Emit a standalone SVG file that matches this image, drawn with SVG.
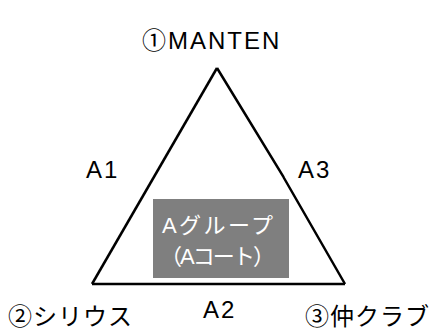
<svg xmlns="http://www.w3.org/2000/svg" width="433" height="333" viewBox="0 0 433 333">
<style>
text{font-family:"Liberation Sans","Noto Sans CJK JP",sans-serif;font-size:24px;fill:#000}
.lat{letter-spacing:2px}
.jp{letter-spacing:1px}
.w{fill:#fff;font-size:22px}
.edge{stroke:#000;stroke-width:2.5;fill:none;stroke-linejoin:miter}
</style>
<rect width="433" height="333" fill="#fff"/>
<g id="connectors">
<path class="edge" d="M217,68 L92,284"/>
<path class="edge" d="M92,284 L345,284"/>
<path class="edge" d="M217,68 L283,176 L284,178 L345,284"/>
</g>
<g id="n1"><text class="lat" x="142" y="49">①MANTEN</text></g>
<g id="n2"><text class="jp" x="8" y="325">②シリウス</text></g>
<g id="n3"><text class="jp" x="305" y="325">③仲クラブ</text></g>
<g id="a1"><text class="lat" x="86" y="178">A1</text></g>
<g id="a3"><text class="lat" x="298" y="178">A3</text></g>
<g id="a2"><text class="lat" x="203" y="318">A2</text></g>
<g id="group">
<rect x="153" y="199" width="136" height="79" fill="#7f7f7f"/>
<text class="w" x="162" y="233" textLength="111" lengthAdjust="spacing">Aグループ</text>
<text class="w" x="160" y="264" textLength="115" lengthAdjust="spacing">（Aコート）</text>
</g>
</svg>
